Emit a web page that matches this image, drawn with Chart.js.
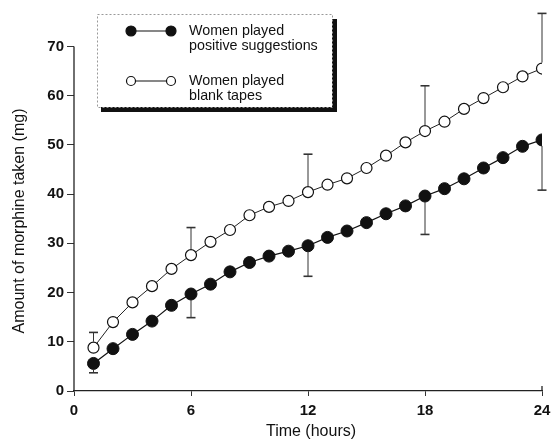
<!DOCTYPE html>
<html>
<head>
<meta charset="utf-8">
<script src="https://cdn.jsdelivr.net/npm/chart.js@4"></script>
<style>
  html, body { margin: 0; padding: 0; background: #fff; }
  #wrap { width: 551px; height: 443px; }
</style>
</head>
<body>
<div id="wrap"><canvas id="canvas" width="551" height="443"></canvas></div>
<script>
// hours 1..24
var hours = [1,2,3,4,5,6,7,8,9,10,11,12,13,14,15,16,17,18,19,20,21,22,23,24];
var positiveValues = [5.6,8.6,11.5,14.2,17.4,19.7,21.7,24.2,26.1,27.4,28.4,29.5,31.2,32.5,34.2,36.0,37.6,39.6,41.1,43.1,45.3,47.4,49.7,51.0];
var blankValues = [8.8,14.0,18.0,21.3,24.8,27.6,30.3,32.7,35.7,37.4,38.6,40.4,41.9,43.2,45.3,47.8,50.5,52.8,54.7,57.3,59.5,61.7,63.9,65.5];
// error bars: hour, end value (positive = downward, blank = upward)
var errHours = [1,6,12,18,24];
var positiveErrLow = [3.7,14.9,23.3,31.8,40.8];
var blankErrHigh = [11.9,33.2,48.1,62.0,76.7];
var xTicks = [0,6,12,18,24];
var yTicks = [0,10,20,30,40,50,60,70];
var seriesNames = [['Women played','positive suggestions'],['Women played','blank tapes']];

var FONT = '"Liberation Sans", Arial, Helvetica, sans-serif';

function pts(vals) {
  return hours.map(function(h, i) { return {x: h, y: vals[i]}; });
}

var extras = {
  id: 'extras',
  afterDraw: function(chart) {
    var ctx = chart.ctx;
    var xs = chart.scales.x, ys = chart.scales.y;
    ctx.save();
    // y axis line 0..70
    ctx.strokeStyle = '#222';
    ctx.lineWidth = 1.3;
    ctx.beginPath();
    ctx.moveTo(xs.getPixelForValue(0), ys.getPixelForValue(0));
    ctx.lineTo(xs.getPixelForValue(0), ys.getPixelForValue(70));
    ctx.stroke();
    // x axis end tick
    ctx.beginPath();
    ctx.moveTo(xs.getPixelForValue(24), ys.getPixelForValue(0));
    ctx.lineTo(xs.getPixelForValue(24), ys.getPixelForValue(0) - 5);
    ctx.stroke();
    // error bars
    ctx.strokeStyle = '#333';
    errHours.forEach(function(h, i) {
      var px = xs.getPixelForValue(h);
      var sets = [[positiveValues[h - 1], positiveErrLow[i], 6], [blankValues[h - 1], blankErrHigh[i], 6]];
      sets.forEach(function(s) {
        var y0 = ys.getPixelForValue(s[0]);
        var y1 = ys.getPixelForValue(s[1]);
        var dir = y1 > y0 ? 1 : -1;
        ctx.lineWidth = 1;
        ctx.beginPath();
        ctx.moveTo(px, y0 + dir * s[2]);
        ctx.lineTo(px, y1);
        ctx.stroke();
        ctx.lineWidth = 1.6;
        ctx.beginPath();
        ctx.moveTo(px - 4.5, y1);
        ctx.lineTo(px + 4.5, y1);
        ctx.stroke();
      });
    });
    // axis titles
    ctx.fillStyle = '#111';
    ctx.font = '16px ' + FONT;
    ctx.textAlign = 'center';
    ctx.textBaseline = 'middle';
    ctx.fillText('Time (hours)', 311, 432);
    ctx.translate(20, 221);
    ctx.rotate(-Math.PI / 2);
    ctx.fillText('Amount of morphine taken (mg)', 0, 0);
    ctx.restore();

    // legend box
    ctx.save();
    ctx.fillStyle = '#111';
    ctx.fillRect(101, 107, 236, 5);
    ctx.fillRect(332, 19, 5, 93);
    ctx.fillStyle = '#fff';
    ctx.fillRect(97, 14, 235, 93);
    ctx.strokeStyle = '#999';
    ctx.lineWidth = 1;
    ctx.setLineDash([2, 2]);
    ctx.strokeRect(97.5, 14.5, 235, 93);
    ctx.setLineDash([]);
    var rows = [31, 81];
    chart.data.datasets.forEach(function(ds, i) {
      var y = rows[i];
      ctx.strokeStyle = '#111';
      ctx.lineWidth = 1.2;
      ctx.beginPath();
      ctx.moveTo(131, y);
      ctx.lineTo(171, y);
      ctx.stroke();
      [131, 171].forEach(function(cx) {
        ctx.beginPath();
        ctx.arc(cx, y, i === 0 ? 5 : 4.5, 0, Math.PI * 2);
        ctx.fillStyle = ds.pointBackgroundColor;
        ctx.fill();
        ctx.stroke();
      });
      ctx.fillStyle = '#111';
      ctx.font = '14.3px ' + FONT;
      ctx.textAlign = 'left';
      ctx.textBaseline = 'middle';
      ctx.fillText(seriesNames[i][0], 189, y);
      ctx.fillText(seriesNames[i][1], 189, y + 15.5);
    });
    ctx.restore();
  }
};

var config = {
  type: 'line',
  data: {
    datasets: [{
      label: seriesNames[0].join(' '),
      data: pts(positiveValues),
      borderColor: '#111',
      borderWidth: 1.2,
      backgroundColor: '#111',
      pointBackgroundColor: '#111',
      pointBorderColor: '#111',
      pointRadius: 6,
      pointBorderWidth: 1,
      tension: 0
    }, {
      label: seriesNames[1].join(' '),
      data: pts(blankValues),
      borderColor: '#222',
      borderWidth: 1,
      backgroundColor: '#fff',
      pointBackgroundColor: '#fff',
      pointBorderColor: '#111',
      pointRadius: 5.5,
      pointBorderWidth: 1.2,
      tension: 0
    }]
  },
  options: {
    responsive: false,
    animation: false,
    layout: { padding: { top: 7, right: 9, left: 0, bottom: 0 } },
    plugins: { legend: { display: false }, tooltip: { enabled: false } },
    scales: {
      x: {
        type: 'linear',
        min: 0, max: 24,
        afterFit: function(s) { s.height = 52; s.paddingLeft = 0; s.paddingRight = 0; },
        afterBuildTicks: function(s) { s.ticks = xTicks.map(function(v) { return {value: v}; }); },
        grid: { display: true, drawOnChartArea: false, tickLength: 5, color: '#333' },
        border: { display: true, color: '#222', width: 1.3 },
        ticks: { color: '#111', padding: 6, font: { family: FONT, size: 15, weight: 'bold' }, maxRotation: 0 }
      },
      y: {
        type: 'linear',
        min: 0, max: 78,
        afterFit: function(s) { s.width = 74; s.paddingTop = 0; s.paddingBottom = 0; },
        afterBuildTicks: function(s) { s.ticks = yTicks.map(function(v) { return {value: v}; }); },
        grid: { display: true, drawOnChartArea: false, tickLength: 7, color: '#333' },
        border: { display: false },
        ticks: { color: '#111', padding: 3, font: { family: FONT, size: 15, weight: 'bold' } }
      }
    }
  },
  plugins: [extras]
};

new Chart(document.getElementById('canvas'), config);
</script>
</body>
</html>
